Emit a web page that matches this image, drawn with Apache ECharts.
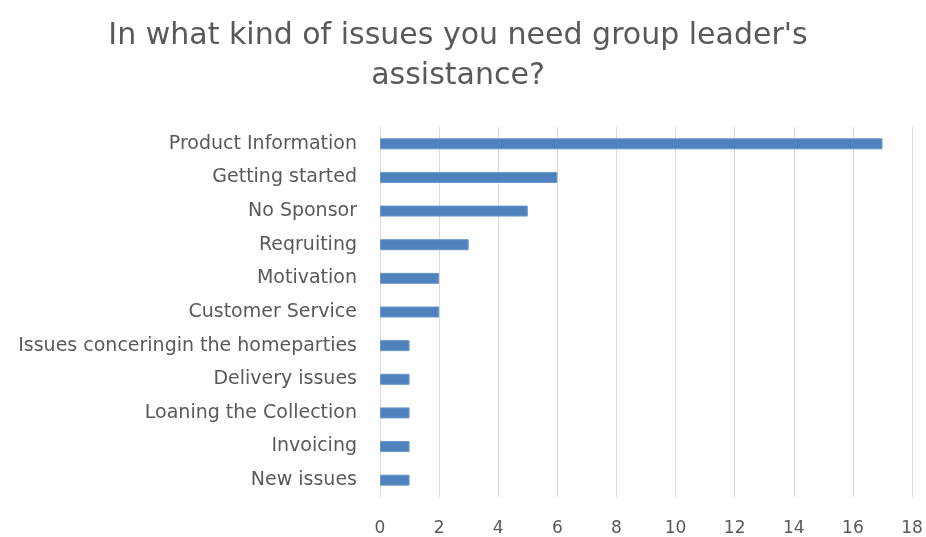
<!DOCTYPE html>
<html>
<head>
<meta charset="utf-8">
<script src="https://cdn.jsdelivr.net/npm/echarts@6/dist/echarts.min.js"></script>
<style>
  html, body { margin: 0; padding: 0; background: #fff; }
  #chart { width: 926px; height: 537px; }
</style>
</head>
<body>
<div id="chart"></div>
<script>
// Issue categories, listed top to bottom
const categories = [
  "Product Information",
  "Getting started",
  "No Sponsor",
  "Reqruiting",
  "Motivation",
  "Customer Service",
  "Issues conceringin the homeparties",
  "Delivery issues",
  "Loaning the Collection",
  "Invoicing",
  "New issues"
];
// Number of answers per category
const counts = [17, 6, 5, 3, 2, 2, 1, 1, 1, 1, 1];
const titleLines = ["In what kind of issues you need group leader's", "assistance?"];

const chart = echarts.init(document.getElementById('chart'));
const font = '"DejaVu Sans", sans-serif';

chart.setOption({
  backgroundColor: '#ffffff',
  animation: false,
  title: {
    text: titleLines.join('\n'),
    left: 453,
    textAlign: 'center',
    top: 11,
    textStyle: {
      fontFamily: font,
      fontSize: 30,
      fontWeight: 'normal',
      color: '#595959',
      lineHeight: 40
    }
  },
  grid: { left: 380, right: 14, top: 127, bottom: 40, containLabel: false },
  xAxis: {
    type: 'value',
    min: 0,
    max: 18,
    interval: 2,
    axisLine: { show: false },
    axisTick: { show: false },
    splitLine: { lineStyle: { color: '#d9d9d9', width: 1 } },
    axisLabel: { fontFamily: font, fontSize: 17, color: '#595959', margin: 23 }
  },
  yAxis: {
    type: 'category',
    inverse: true,
    data: categories,
    axisLine: { show: true, lineStyle: { color: '#d9d9d9' } },
    axisTick: { show: false },
    axisLabel: { fontFamily: font, fontSize: 19, color: '#595959', margin: 23 }
  },
  series: [{
    type: 'bar',
    data: counts,
    barWidth: 11,
    itemStyle: { color: '#4f81bd', borderColor: '#6a96cc', borderWidth: 1 }
  }]
});
</script>
</body>
</html>
